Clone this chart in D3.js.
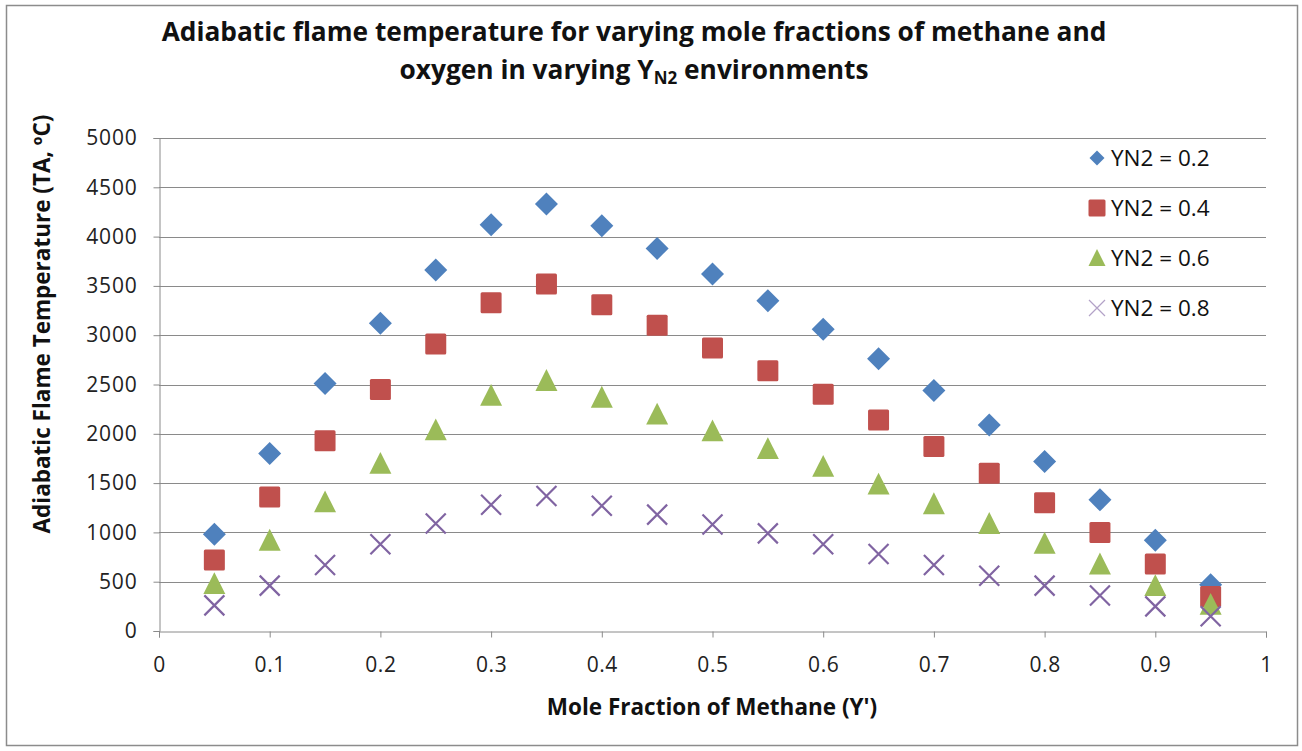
<!DOCTYPE html>
<html>
<head>
<meta charset="utf-8">
<script src="https://cdn.jsdelivr.net/npm/d3@7/dist/d3.min.js"></script>
<style>
  html, body { margin: 0; padding: 0; background: #fff; }
  svg { display: block; font-family: "Open Sans", sans-serif; }
</style>
</head>
<body>
<svg id="chart" width="1302" height="751"></svg>
<script>
const xValues = [0.05,0.1,0.15,0.2,0.25,0.3,0.35,0.4,0.45,0.5,0.55,0.6,0.65,0.7,0.75,0.8,0.85,0.9,0.95];
const seriesNames = ["YN2 = 0.2","YN2 = 0.4","YN2 = 0.6","YN2 = 0.8"];
const yn02 = [980,1800,2510,3120,3660,4120,4330,4110,3880,3620,3350,3060,2760,2440,2090,1720,1330,920,470];
const yn04 = [720,1360,1930,2450,2910,3330,3520,3310,3100,2870,2640,2400,2140,1870,1600,1300,1000,680,350];
const yn06 = [480,920,1310,1700,2040,2390,2540,2370,2200,2030,1850,1670,1490,1290,1090,890,680,460,270];
const yn08 = [260,460,670,880,1090,1280,1370,1270,1180,1080,990,880,780,670,560,460,360,250,150];
const xTicks = [0,0.1,0.2,0.3,0.4,0.5,0.6,0.7,0.8,0.9,1];
const yTicks = [0,500,1000,1500,2000,2500,3000,3500,4000,4500,5000];

(function(){
const colors = ["#4F81BD","#C0504D","#9BBB59","#8064A2"];
const shapes = ["diamond","square","triangle","cross"];
const allSeries = [yn02, yn04, yn06, yn08];
const FONT = "'Open Sans', sans-serif";

const svg = d3.select("#chart");
svg.append("rect").attr("x",6.5).attr("y",5.5).attr("width",1291).attr("height",740)
  .attr("fill","#fff").attr("stroke","#8c8c8c").attr("stroke-width",1.5);

const pl = 159, pr = 1266, pt = 138, pb = 631;
const x = d3.scaleLinear().domain([0,1]).range([pl,pr]);
const y = d3.scaleLinear().domain([0,5000]).range([pb,pt]);

svg.append("g").selectAll("line").data(yTicks.slice(1)).join("line")
  .attr("x1",pl).attr("x2",pr)
  .attr("y1",d=>Math.round(y(d))+0.5).attr("y2",d=>Math.round(y(d))+0.5)
  .attr("stroke","#8a8a8a").attr("stroke-width",1);

const yAxis = svg.append("g").attr("transform",`translate(${pl+0.5},0)`)
  .call(d3.axisLeft(y).tickValues(yTicks).tickSize(6).tickPadding(16).tickFormat(d3.format("d")));
yAxis.select(".domain").attr("stroke","#8a8a8a");
yAxis.selectAll(".tick line").attr("stroke","#8a8a8a");
yAxis.selectAll("text").attr("font-size",21).attr("letter-spacing",0.8).attr("fill","#222").attr("font-family",FONT);

const xAxis = svg.append("g").attr("transform",`translate(0,${pb+0.5})`)
  .call(d3.axisBottom(x).tickValues(xTicks).tickSize(6).tickPadding(20).tickFormat(d=>d===0?"0":d===1?"1":d3.format(".1f")(d)));
xAxis.select(".domain").attr("stroke","#8a8a8a");
xAxis.selectAll(".tick line").attr("stroke","#8a8a8a");
xAxis.selectAll("text").attr("font-size",21).attr("letter-spacing",0.6).attr("fill","#222").attr("font-family",FONT);

function drawMarker(g, shape, color, cx, cy, s) {
  if (shape === "diamond") {
    g.append("path").attr("d", d3.symbol(d3.symbolSquare, s*s*0.5)())
      .attr("transform",`translate(${cx},${cy}) rotate(45)`).attr("fill",color);
  } else if (shape === "square") {
    g.append("rect").attr("x",cx-s/2).attr("y",cy-s/2).attr("width",s).attr("height",s)
      .attr("rx",1.5).attr("fill",color);
  } else if (shape === "triangle") {
    const h = s*0.95;
    g.append("path").attr("d",`M${cx},${cy-h/2-1}L${cx+s/2},${cy+h/2}L${cx-s/2},${cy+h/2}Z`).attr("fill",color);
  } else {
    const r = s/2;
    g.append("path").attr("d",`M${cx-r},${cy-r}L${cx+r},${cy+r}M${cx-r},${cy+r}L${cx+r},${cy-r}`)
      .attr("stroke",color).attr("stroke-width",2.2).attr("fill","none");
  }
}

const sizes = [23,21,22,20];
allSeries.forEach((vals,i) => {
  const g = svg.append("g");
  vals.forEach((v,j) => drawMarker(g, shapes[i], colors[i], x(xValues[j]), y(v), sizes[i]));
});

const legendSizes = [15,17,17,16];
seriesNames.forEach((name,i) => {
  const ly = 158 + i*50;
  const g = svg.append("g");
  drawMarker(g, shapes[i], colors[i], 1097, ly, legendSizes[i]);
  if (i===3) g.select("path").attr("stroke-width",1.2).attr("opacity",0.6);
  g.append("text").attr("x",1111).attr("y",ly+8).attr("font-size",22.5).attr("fill","#111").text(name);
});

const title = svg.append("text").attr("text-anchor","middle").attr("font-weight","bold")
  .attr("font-size",26.3).attr("fill","#111");
title.append("tspan").attr("x",634).attr("y",41).text("Adiabatic flame temperature for varying mole fractions of methane and");
const t2 = title.append("tspan").attr("x",634).attr("y",79);
t2.append("tspan").text("oxygen in varying Y");
t2.append("tspan").attr("font-size",17).attr("dy",5).text("N2");
t2.append("tspan").attr("dy",-5).text(" environments");

svg.append("text").attr("x",712).attr("y",715).attr("text-anchor","middle").attr("font-weight","bold")
  .attr("font-size",22.5).attr("fill","#111").text("Mole Fraction of Methane (Y')");
svg.append("text").attr("transform","translate(50,324) rotate(-90)").attr("text-anchor","middle")
  .attr("font-weight","bold").attr("font-size",22.5).attr("fill","#111").text("Adiabatic Flame Temperature (TA, ºC)");
})();
</script>
</body>
</html>
